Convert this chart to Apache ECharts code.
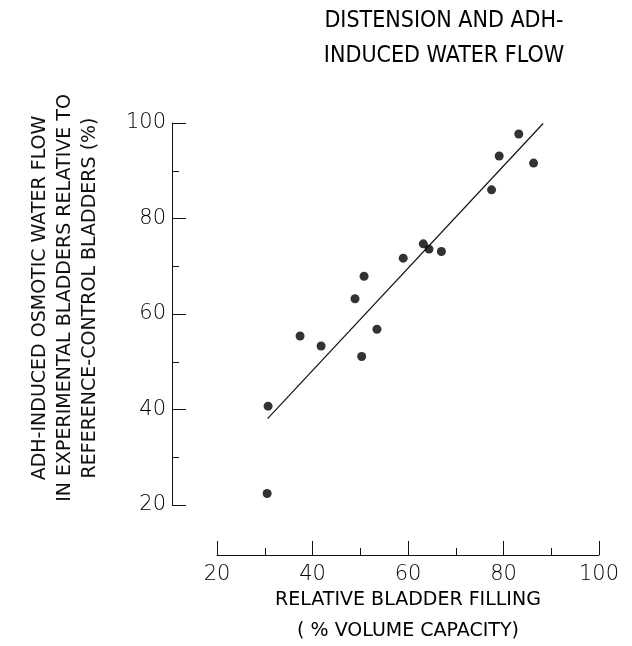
<!DOCTYPE html>
<html>
<head>
<meta charset="utf-8">
<script src="https://cdn.jsdelivr.net/npm/echarts@6/dist/echarts.min.js"></script>
<style>
  html, body { margin: 0; padding: 0; background: #fff; }
  #chart { width: 632px; height: 646px; }
</style>
</head>
<body>
<div id="chart"></div>
<script>
// bladder filling (% volume capacity)
const filling = [83.2, 79.1, 86.3, 77.5, 63.2, 64.4, 67.0, 59.0, 50.8, 48.9, 53.5, 37.4, 41.8, 50.3, 30.7, 30.5];
// ADH-induced water flow relative to control (%)
const waterFlow = [97.7, 93.1, 91.6, 86.0, 74.7, 73.6, 73.1, 71.7, 67.9, 63.2, 56.8, 55.4, 53.3, 51.1, 40.7, 22.4];
// fitted line end points
const fitX = [30.6, 88.3];
const fitY = [38.1, 99.9];

const xTicks = [20, 40, 60, 80, 100];
const yTicks = [20, 40, 60, 80, 100];

const FONT = "DejaVu Sans";
const NARROW = "'Liberation Sans Narrow', 'DejaVu Sans Condensed', 'DejaVu Sans'";
const INK = "#111";

const chart = echarts.init(document.getElementById("chart"));

const axisCommon = {
    type: "value",
    min: 20,
    max: 100,
    interval: 20,
    axisLine: { show: true, lineStyle: { color: INK, width: 1 } },
    axisTick: { show: true, inside: true, length: 14, lineStyle: { color: INK, width: 1 } },
    minorTick: { show: true, splitNumber: 2, length: 7, lineStyle: { color: INK, width: 1 } },
    splitLine: { show: false },
    axisLabel: { color: "#000", fontFamily: FONT, fontSize: 21, fontWeight: 200 },
};

chart.setOption({
    animation: false,
    backgroundColor: "#fff",
    title: {
        text: "DISTENSION AND ADH-\nINDUCED WATER FLOW",
        left: 439,
        top: -1,
        textAlign: "center",
        textStyle: {
            color: "#000",
            fontFamily: NARROW,
            fontSize: 23,
            fontWeight: "normal",
            lineHeight: 35,
        },
    },
    grid: { left: 217, top: 123, width: 382, height: 382 },
    xAxis: Object.assign({}, axisCommon, {
        offset: 50,
        axisLabel: Object.assign({}, axisCommon.axisLabel, {
            margin: 9,
            formatter: (v) => (xTicks.includes(v) ? String(v) : ""),
        }),
    }),
    yAxis: Object.assign({}, axisCommon, {
        offset: 45,
        axisLabel: Object.assign({}, axisCommon.axisLabel, {
            margin: 6,
            formatter: (v) => (yTicks.includes(v) ? String(v) : ""),
        }),
    }),
    graphic: [
        {
            type: "text",
            x: 408,
            y: 616,
            style: {
                text: "RELATIVE BLADDER FILLING\n( % VOLUME CAPACITY)",
                fill: "#000",
                font: "normal 19px '" + FONT + "'",
                align: "center",
                verticalAlign: "middle",
                lineHeight: 31,
            },
        },
        {
            type: "text",
            x: 65,
            y: 298,
            rotation: Math.PI / 2,
            style: {
                text: "ADH-INDUCED OSMOTIC WATER FLOW\nIN EXPERIMENTAL BLADDERS RELATIVE TO\nREFERENCE-CONTROL BLADDERS (%)",
                fill: "#111",
                font: "normal 19px '" + FONT + "'",
                align: "center",
                verticalAlign: "middle",
                lineHeight: 25,
            },
        },
    ],
    series: [
        {
            type: "scatter",
            symbol: "circle",
            symbolSize: 9,
            itemStyle: { color: "#000" },
            data: filling.map((x, i) => [x, waterFlow[i]]),
        },
        {
            type: "line",
            symbol: "none",
            lineStyle: { color: INK, width: 1.2 },
            data: fitX.map((x, i) => [x, fitY[i]]),
        },
    ],
});
</script>
</body>
</html>
